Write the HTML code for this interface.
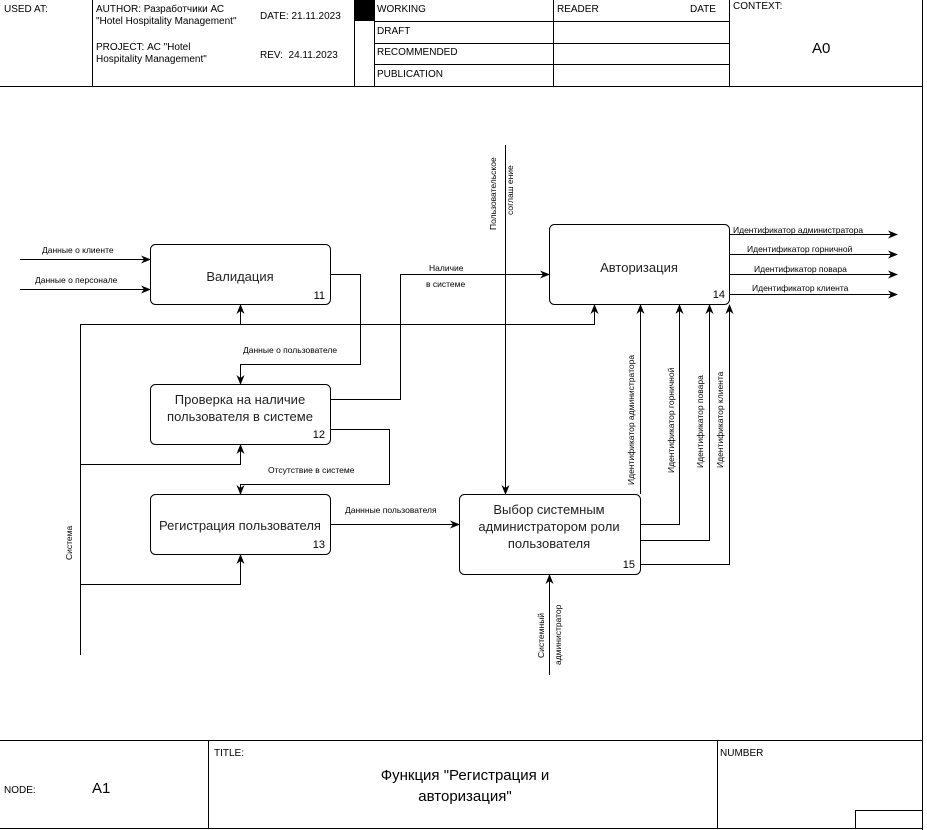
<!DOCTYPE html>
<html><head><meta charset="utf-8"><style>
html,body{margin:0;padding:0;background:#fff}
svg{display:block;font-family:"Liberation Sans","Noto Sans CJK SC",sans-serif}
</style></head><body>
<svg width="927" height="830" viewBox="0 0 927 830" xmlns="http://www.w3.org/2000/svg">
<defs><marker id="a" markerWidth="10" markerHeight="10" refX="9" refY="5" orient="auto" markerUnits="userSpaceOnUse"><path d="M0,1 L10,5 L0,9 L3,5 Z" fill="#000"/></marker></defs>
<g stroke="#000" stroke-width="1" fill="none">
<line x1="0" y1="86.5" x2="922" y2="86.5"/>
<line x1="922.5" y1="0" x2="922.5" y2="830"/>
<line x1="92.5" y1="0" x2="92.5" y2="86"/>
<line x1="354.5" y1="0" x2="354.5" y2="86"/>
<line x1="374.5" y1="0" x2="374.5" y2="86"/>
<line x1="553.5" y1="0" x2="553.5" y2="86"/>
<line x1="729.5" y1="0" x2="729.5" y2="86"/>
<line x1="374" y1="21.5" x2="729" y2="21.5"/>
<line x1="374" y1="43.5" x2="729" y2="43.5"/>
<line x1="374" y1="64.5" x2="729" y2="64.5"/>
<line x1="0" y1="740.5" x2="922" y2="740.5"/>
<line x1="0" y1="828.5" x2="922" y2="828.5"/>
<line x1="208.5" y1="740" x2="208.5" y2="828"/>
<line x1="717.5" y1="740" x2="717.5" y2="828"/>
<rect x="855.5" y="810.5" width="67" height="18"/>
<rect x="150.5" y="244.5" width="180" height="60" rx="5"/>
<rect x="150.5" y="384.5" width="180" height="60" rx="5"/>
<rect x="150.5" y="494.5" width="180" height="60" rx="5"/>
<rect x="549.5" y="224.5" width="180" height="80" rx="5"/>
<rect x="459.5" y="494.5" width="181" height="80" rx="5"/>
<line x1="20" y1="259.5" x2="150" y2="259.5" marker-end="url(#a)"/>
<line x1="20" y1="289.5" x2="150" y2="289.5" marker-end="url(#a)"/>
<line x1="80.5" y1="324" x2="80.5" y2="655"/>
<polyline points="80,324.5 594.5,324.5 594.5,305" marker-end="url(#a)"/>
<line x1="240.5" y1="324" x2="240.5" y2="305" marker-end="url(#a)"/>
<polyline points="80,464.5 240.5,464.5 240.5,445" marker-end="url(#a)"/>
<polyline points="80,584.5 240.5,584.5 240.5,555" marker-end="url(#a)"/>
<polyline points="330,274.5 360.5,274.5 360.5,364.5 240.5,364.5 240.5,384" marker-end="url(#a)"/>
<polyline points="330,399.5 400.5,399.5 400.5,274.5 549,274.5" marker-end="url(#a)"/>
<polyline points="330,429.5 389.5,429.5 389.5,484.5 240.5,484.5 240.5,494" marker-end="url(#a)"/>
<line x1="330" y1="524.5" x2="459" y2="524.5" marker-end="url(#a)"/>
<line x1="505.5" y1="145" x2="505.5" y2="494" marker-end="url(#a)"/>
<line x1="640.5" y1="494" x2="640.5" y2="305" marker-end="url(#a)"/>
<polyline points="640,524.5 679.5,524.5 679.5,305" marker-end="url(#a)"/>
<polyline points="640,540.5 709.5,540.5 709.5,305" marker-end="url(#a)"/>
<polyline points="640,564.5 729.5,564.5 729.5,305" marker-end="url(#a)"/>
<line x1="549.5" y1="675" x2="549.5" y2="575" marker-end="url(#a)"/>
<line x1="729" y1="234.5" x2="897" y2="234.5" marker-end="url(#a)"/>
<line x1="729" y1="254.5" x2="897" y2="254.5" marker-end="url(#a)"/>
<line x1="729" y1="274.5" x2="897" y2="274.5" marker-end="url(#a)"/>
<line x1="729" y1="294.5" x2="897" y2="294.5" marker-end="url(#a)"/>
</g>
<rect x="354" y="0" width="20" height="21" fill="#000"/>
<g font-size="10" fill="#000">
<text x="4" y="12">USED AT:</text>
<text x="96" y="12">AUTHOR: Разработчики АС</text>
<text x="96" y="24">"Hotel Hospitality Management"</text>
<text x="96" y="50">PROJECT: АС "Hotel</text>
<text x="96" y="62">Hospitality Management"</text>
<text x="260" y="19">DATE: 21.11.2023</text>
<text x="260" y="58">REV:&#160;&#160;24.11.2023</text>
<text x="377" y="12">WORKING</text>
<text x="377" y="34">DRAFT</text>
<text x="377" y="55">RECOMMENDED</text>
<text x="377" y="77">PUBLICATION</text>
<text x="557" y="12">READER</text>
<text x="690" y="12">DATE</text>
<text x="733" y="9">CONTEXT:</text>
<text x="4" y="793">NODE:</text>
<text x="214" y="756">TITLE:</text>
<text x="720" y="756">NUMBER</text>
</g>
<text x="812" y="53" font-size="15">A0</text>
<text x="92" y="793" font-size="15">A1</text>
<g font-size="15" text-anchor="middle">
<text x="465" y="780">Функция "Регистрация и</text>
<text x="465" y="801">авторизация"</text>
</g>
<g font-size="13" text-anchor="middle" fill="#222">
<text x="240" y="281">Валидация</text>
<text x="240" y="404">Проверка на наличие</text>
<text x="240" y="421">пользователя в системе</text>
<text x="240" y="530">Регистрация пользователя</text>
<text x="639" y="272">Авторизация</text>
<text x="549" y="514">Выбор системным</text>
<text x="549" y="531">администратором роли</text>
<text x="549" y="548">пользователя</text>
</g>
<g font-size="11" text-anchor="end">
<text x="325" y="299">11</text>
<text x="325" y="438">12</text>
<text x="325" y="548">13</text>
<text x="725" y="298">14</text>
<text x="635" y="568">15</text>
</g>
<g font-size="8.5">
<text x="42" y="253">Данные о клиенте</text>
<text x="35" y="283">Данные о персонале</text>
<text x="243" y="353">Данные о пользователе</text>
<text x="429" y="271">Наличие</text>
<text x="426" y="287">в системе</text>
<text x="268" y="473">Отсутствие в системе</text>
<text x="345" y="513">Даннные пользователя</text>
<text x="733" y="233">Идентификатор администратора</text>
<text x="747" y="252">Идентификатор горничной</text>
<text x="754" y="272">Идентификатор повара</text>
<text x="752" y="291">Идентификатор клиента</text>
<text transform="translate(72,560) rotate(-90)">Система</text>
<text transform="translate(496,230) rotate(-90)">Пользовательское</text>
<text transform="translate(513,215) rotate(-90)">соглаш ение</text>
<text transform="translate(634,485) rotate(-90)">Идентификатор администратора</text>
<text transform="translate(674,473) rotate(-90)">Идентификатор горничной</text>
<text transform="translate(703,468) rotate(-90)">Идентификатор повара</text>
<text transform="translate(723,468) rotate(-90)">Идентификатор клиента</text>
<text transform="translate(544,658) rotate(-90)">Системный</text>
<text transform="translate(561,665) rotate(-90)">администратор</text>
</g>
</svg>
</body></html>
